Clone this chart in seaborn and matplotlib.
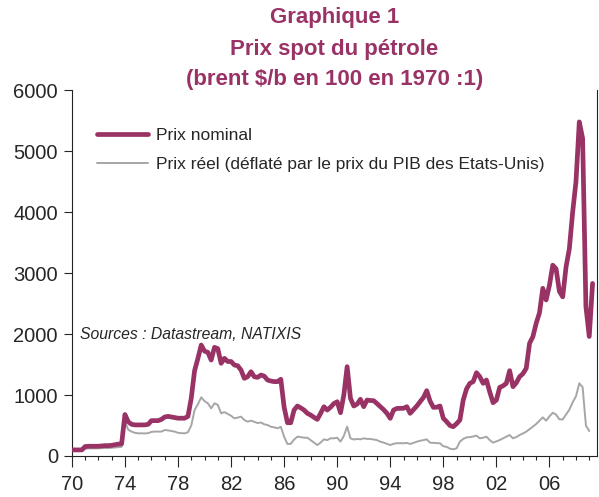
import numpy as np
import pandas as pd
import matplotlib
matplotlib.use("Agg")
import matplotlib.pyplot as plt
import seaborn as sns
from matplotlib.ticker import MultipleLocator

# quarterly series, 1970Q1 -> 2009Q2, index 1970 = 100
nominal = [
    100, 100, 100, 100,      # 1970
    155, 160, 160, 160,      # 1971
    160, 165, 170, 170,      # 1972
    175, 185, 195, 200,      # 1973
    680, 560, 520, 510,      # 1974
    510, 510, 510, 520,      # 1975
    580, 580, 580, 600,      # 1976
    640, 650, 640, 630,      # 1977
    620, 620, 620, 650,      # 1978
    950, 1400, 1600, 1820,   # 1979
    1720, 1700, 1574, 1783,  # 1980
    1760, 1520, 1602, 1550,  # 1981
    1550, 1492, 1480, 1410,  # 1982
    1274, 1300, 1382, 1300,  # 1983
    1290, 1328, 1310, 1246,  # 1984
    1230, 1220, 1220, 1258,  # 1985
    800, 546, 546, 754,      # 1986
    820, 790, 754, 700,      # 1987
    672, 634, 601, 700,      # 1988
    808, 754, 800, 860,      # 1989
    890, 710, 1000, 1465,    # 1990
    946, 820, 850, 930,      # 1991
    809, 918, 910, 907,      # 1992
    860, 809, 760, 700,      # 1993
    618, 754, 780, 782,      # 1994
    782, 809, 700, 760,      # 1995
    820, 891, 960, 1071,     # 1996
    900, 798, 800, 820,      # 1997
    618, 563, 500, 481,      # 1998
    530, 590, 918, 1100,     # 1999
    1192, 1219, 1366, 1300,  # 2000
    1192, 1246, 1050, 875,   # 2001
    918, 1126, 1150, 1192,   # 2002
    1399, 1137, 1200, 1301,  # 2003
    1350, 1438, 1848, 1957,  # 2004
    2176, 2350, 2750, 2560,  # 2005
    2800, 3130, 3070, 2700,  # 2006
    2610, 3100, 3400, 4000,  # 2007
    4500, 5480, 5210, 2450,  # 2008
    1960, 2830,              # 2009
]

real = [
    100, 100, 100, 100,      # 1970
    120, 125, 125, 125,      # 1971
    125, 130, 130, 130,      # 1972
    135, 140, 145, 150,      # 1973
    563, 430, 400, 380,      # 1974
    372, 372, 370, 375,      # 1975
    395, 400, 400, 400,      # 1976
    426, 420, 410, 400,      # 1977
    380, 375, 372, 390,      # 1978
    500, 754, 850, 962,      # 1979
    900, 864, 782, 864,      # 1980
    840, 700, 720, 690,      # 1981
    660, 618, 630, 645,      # 1982
    590, 563, 580, 560,      # 1983
    540, 550, 520, 508,      # 1984
    480, 470, 455, 480,      # 1985
    317, 197, 200, 270,      # 1986
    317, 310, 300, 300,      # 1987
    260, 220, 180, 220,      # 1988
    273, 260, 290, 290,      # 1989
    300, 235, 330, 481,      # 1990
    290, 270, 280, 273,      # 1991
    290, 280, 280, 270,      # 1992
    260, 235, 220, 200,      # 1993
    180, 200, 210, 210,      # 1994
    208, 215, 197, 215,      # 1995
    235, 250, 260, 273,      # 1996
    219, 215, 210, 208,      # 1997
    160, 150, 120, 109,      # 1998
    126, 235, 280, 306,      # 1999
    310, 320, 335, 290,      # 2000
    300, 317, 260, 219,      # 2001
    240, 262, 290, 317,      # 2002
    344, 290, 310, 344,      # 2003
    370, 399, 440, 481,      # 2004
    525, 580, 634, 579,      # 2005
    650, 710, 680, 601,      # 2006
    600, 680, 760, 880,      # 2007
    980, 1192, 1130, 500,    # 2008
    410, np.nan,             # 2009
]

years = np.arange(1970, 2010, 4)
year_labels = ["70", "74", "78", "82", "86", "90", "94", "98", "02", "06"]

title_lines = ["Graphique 1", "Prix spot du pétrole", "(brent $/b en 100 en 1970 :1)"]
lab_nominal = "Prix nominal"
lab_real = "Prix réel (déflaté par le prix du PIB des Etats-Unis)"
source = "Sources : Datastream, NATIXIS"

plum = "#993366"
grey = "#a6a6a6"

df = pd.DataFrame({"date": 1970 + np.arange(len(nominal)) / 4,
                   "nominal": nominal, "real": real})

sns.set_style("ticks")
plt.rcParams["font.family"] = ["Liberation Sans", "DejaVu Sans"]

fig = plt.figure(figsize=(5.99, 4.97), dpi=100)
ax = fig.add_axes([0.12, 0.0825, 0.877, 0.736])

sns.lineplot(data=df, x="date", y="nominal", ax=ax, color=plum, lw=3.4,
             label=lab_nominal, zorder=3)
sns.lineplot(data=df, x="date", y="real", ax=ax, color=grey, lw=1.4,
             label=lab_real, zorder=2)

ax.set_xlim(1970, 2009.6)
ax.set_ylim(0, 6000)
ax.set_xticks(years)
ax.set_xticklabels(year_labels)
ax.xaxis.set_minor_locator(MultipleLocator(1))
ax.yaxis.set_major_locator(MultipleLocator(1000))
ax.set_xlabel("")
ax.set_ylabel("")
ax.tick_params(axis="x", which="major", length=8, width=0.8, pad=6,
               labelsize=14.5, direction="out")
ax.tick_params(axis="x", which="minor", length=3, width=0.8, direction="out")
ax.tick_params(axis="y", which="major", length=6, width=0.8, pad=4,
               labelsize=14.5, direction="out")
ax.spines["top"].set_visible(False)
for s in ["left", "bottom", "right"]:
    ax.spines[s].set_linewidth(0.8)
    ax.spines[s].set_color("#222222")

ax.legend(loc="upper left", bbox_to_anchor=(0.035, 0.915), frameon=False,
          handlelength=2.9, fontsize=12.5, labelspacing=0.8, handletextpad=0.5,
          borderaxespad=0)

ax.text(0.015, 2000 / 6000, source, transform=ax.transAxes, fontsize=11.3,
        style="italic", va="center", ha="left")

cx = 0.12 + 0.877 / 2
for i, line in enumerate(title_lines):
    fig.text(cx, 1 - (18 + 31 * i) / 497, line, ha="center", va="center",
             fontsize=16, fontweight="bold", color=plum)

fig.savefig("out.png", dpi=100)
